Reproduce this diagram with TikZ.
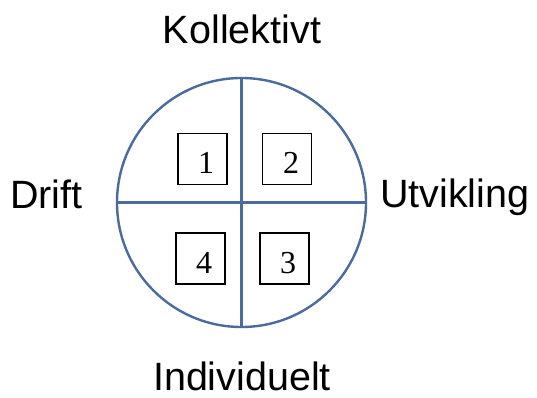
\documentclass[tikz,border=0pt]{standalone}
\usepackage{fontspec}
\setmainfont{Liberation Serif}
\newfontfamily\labelfont{Liberation Sans}
\definecolor{ringblue}{RGB}{74,107,155}
\begin{document}
\begin{tikzpicture}[x=1pt,y=-1pt,
  ring/.style={draw=ringblue,line width=2.4pt},
  numbox/.style={draw=black,line width=1.1pt,minimum width=49pt,minimum height=51pt,inner sep=0pt},
  numtext/.style={font=\fontsize{32}{32}\selectfont,inner sep=0pt},
  axislabel/.style={font=\labelfont\fontsize{39.5}{39.5}\selectfont,inner sep=0pt}]
\useasboundingbox (0,0) rectangle (537,397);
\coordinate (c) at (241.5,202.5);
\draw[ring] (c) circle[radius=124.5];
\coordinate (top) at (241.5,78);
\coordinate (bot) at (241.5,327);
\coordinate (lft) at (117,202.5);
\coordinate (rgt) at (366,202.5);
\draw[ring] (top) -- (bot);
\draw[ring] (lft) -- (rgt);
\node[numbox] (b1) at (202.5,159) {};
\node[numbox] (b2) at (287,159) {};
\node[numbox] (b4) at (200.5,258.5) {};
\node[numbox] (b3) at (284.5,258.5) {};
\node[numtext,anchor=base] (t1) at (206,173.5) {1};
\node[numtext,anchor=base] (t2) at (291,173.5) {2};
\node[numtext,anchor=base] (t4) at (204,273.5) {4};
\node[numtext,anchor=base] (t3) at (288,273.5) {3};
\node[axislabel,anchor=base] (k) at (242,43) {Kollektivt};
\node[axislabel,anchor=base west] (d) at (10,208) {Drift};
\node[axislabel,anchor=base west] (u) at (380,207) {Utvikling};
\node[axislabel,anchor=base,text depth=0pt] (i) at (242,390) {Individuelt};
\end{tikzpicture}
\end{document}
